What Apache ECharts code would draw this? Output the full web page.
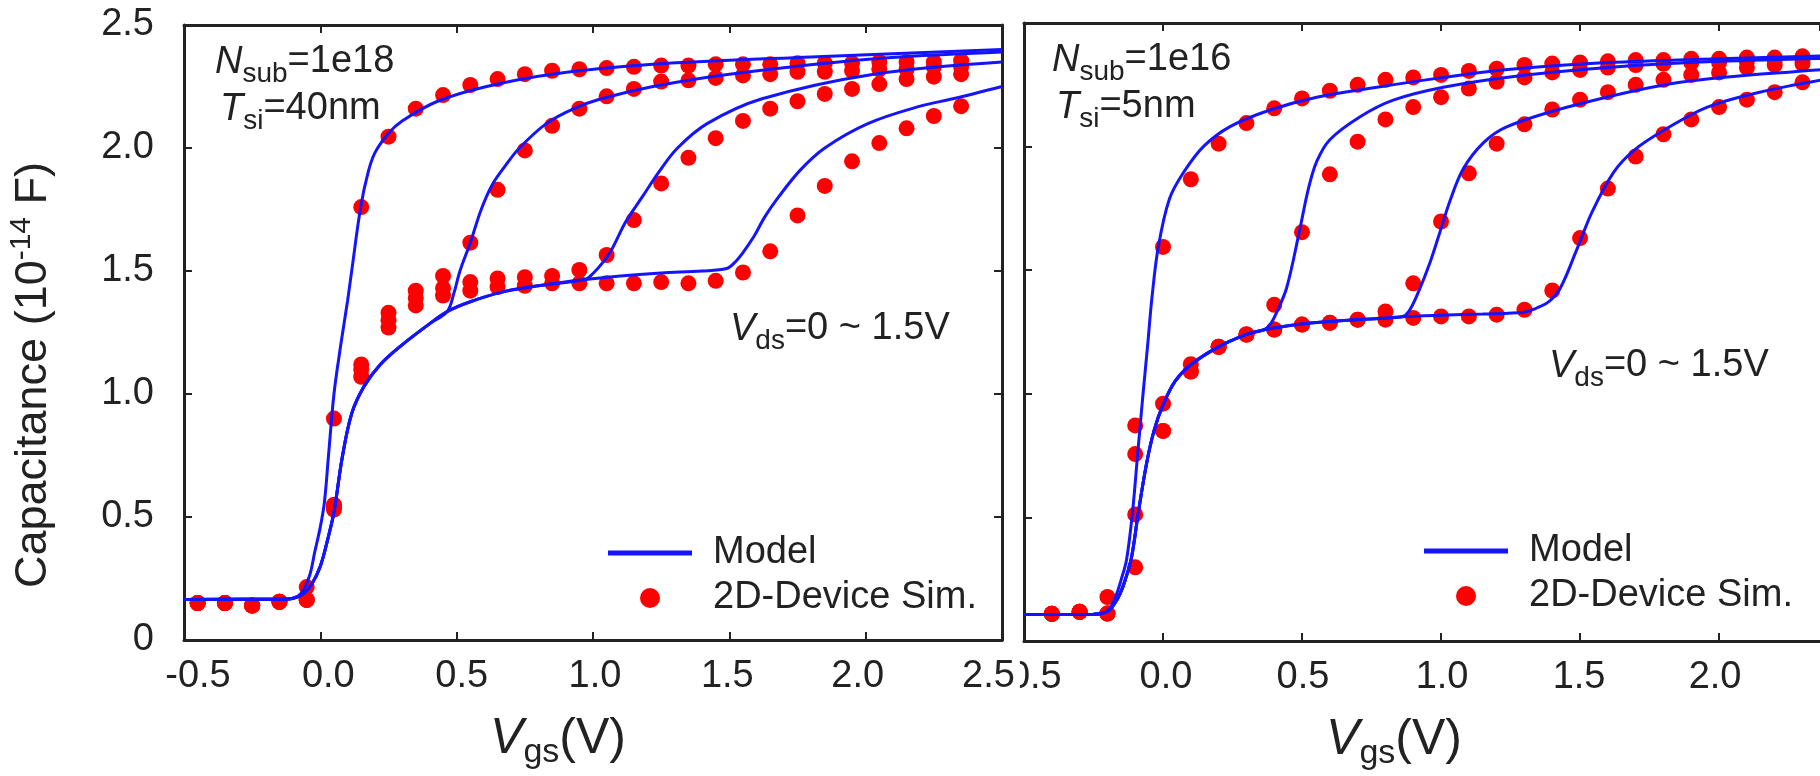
<!DOCTYPE html>
<html>
<head>
<meta charset="utf-8">
<title>C-V curves</title>
<script src="https://cdn.jsdelivr.net/npm/echarts@6/dist/echarts.min.js"></script>
<style>
  html, body { margin: 0; padding: 0; background: #fff; }
  #main { width: 1820px; height: 776px; }
</style>
</head>
<body>
<div id="main"></div>
<script>
// tick labels
const X_TICK_LABELS = ['-0.5', '0.0', '0.5', '1.0', '1.5', '2.0', '2.5']
const Y_TICK_LABELS = ['0', '0.5', '1.0', '1.5', '2.0', '2.5']

// left panel: Nsub=1e18, Tsi=40nm -- 2D device sim points (Vds = 0, 0.5, 1.0, 1.5 V)
const simVgsL = [-0.45, -0.35, -0.25, -0.15, -0.05, 0.05, 0.15, 0.25, 0.35, 0.45, 0.55, 0.65, 0.75, 0.85, 0.95,
  1.05, 1.15, 1.25, 1.35, 1.45, 1.55, 1.65, 1.75, 1.85, 1.95, 2.05, 2.15, 2.25, 2.35]
const simL0 = [0.150, 0.150, 0.140, 0.155, 0.215, 0.90, 1.76, 2.046, 2.16, 2.215, 2.256, 2.28, 2.30, 2.314, 2.32,
  2.325, 2.33, 2.335, 2.335, 2.34, 2.34, 2.34, 2.345, 2.345, 2.345, 2.35, 2.35, 2.35, 2.355]
const simL05 = [0.150, 0.150, 0.140, 0.155, 0.163, 0.55, 1.12, 1.33, 1.42, 1.48, 1.615, 1.83, 1.99, 2.09, 2.16,
  2.21, 2.24, 2.27, 2.275, 2.285, 2.295, 2.30, 2.31, 2.31, 2.315, 2.32, 2.32, 2.33, 2.33]
const simL10 = [0.150, 0.150, 0.140, 0.155, 0.163, 0.54, 1.10, 1.30, 1.39, 1.43, 1.455, 1.47, 1.475, 1.48, 1.504,
  1.565, 1.707, 1.856, 1.96, 2.04, 2.11, 2.16, 2.19, 2.22, 2.24, 2.26, 2.28, 2.29, 2.30]
const simL15 = [0.150, 0.150, 0.140, 0.155, 0.163, 0.53, 1.07, 1.27, 1.36, 1.40, 1.42, 1.435, 1.44, 1.45, 1.45,
  1.45, 1.45, 1.455, 1.45, 1.46, 1.494, 1.58, 1.726, 1.846, 1.946, 2.02, 2.08, 2.13, 2.17]

// left panel model curves [Vgs, C]
const modelL0 = [[-0.5, 0.165], [-0.15, 0.166], [-0.1, 0.17], [-0.07, 0.19], [-0.04, 0.26], [-0.02, 0.36], [0, 0.46],
  [0.015, 0.56], [0.03, 0.75], [0.05, 1.0], [0.075, 1.2], [0.1, 1.38], [0.115, 1.5], [0.148, 1.76], [0.175, 1.9],
  [0.2, 1.98], [0.25, 2.06], [0.3, 2.11], [0.43, 2.19], [0.61, 2.25], [0.85, 2.3], [1.22, 2.34], [1.8, 2.37], [2.5, 2.40]]
const baseL = [[-0.5, 0.165], [-0.15, 0.166], [-0.1, 0.17], [-0.06, 0.19], [-0.03, 0.23], [0, 0.3], [0.025, 0.4],
  [0.05, 0.52], [0.08, 0.74], [0.115, 0.92], [0.16, 1.03], [0.22, 1.12], [0.3, 1.2], [0.4, 1.285], [0.465, 1.335]]
const baseL2 = [[0.55, 1.375], [0.67, 1.415], [0.8, 1.44], [0.97, 1.465]]
const baseL3 = [[1.1, 1.48], [1.25, 1.492], [1.4, 1.5], [1.49, 1.51]]
const tailL05 = [[0.49, 1.41], [0.512, 1.5], [0.55, 1.615], [0.59, 1.75], [0.63, 1.85], [0.68, 1.93], [0.73, 2.0],
  [0.83, 2.1], [0.93, 2.16], [1.03, 2.2], [1.22, 2.25], [1.5, 2.3], [2.0, 2.36], [2.5, 2.39]]
const tailL10 = [[1.0, 1.49], [1.04, 1.54], [1.07, 1.59], [1.12, 1.7], [1.18, 1.8], [1.24, 1.9], [1.31, 2.0],
  [1.42, 2.1], [1.62, 2.2], [2.03, 2.3], [2.5, 2.35]]
const tailL15 = [[1.52, 1.535], [1.55, 1.575], [1.59, 1.64], [1.63, 1.72], [1.68, 1.8], [1.76, 1.91], [1.85, 2.0],
  [2.01, 2.1], [2.2, 2.17], [2.32, 2.2], [2.5, 2.25]]

// right panel: Nsub=1e16, Tsi=5nm
const simVgsR = [-0.4, -0.3, -0.2, -0.1, 0.0, 0.1, 0.2, 0.3, 0.4, 0.5, 0.6, 0.7, 0.8, 0.9, 1.0,
  1.1, 1.2, 1.3, 1.4, 1.5, 1.6, 1.7, 1.8, 1.9, 2.0, 2.1, 2.2, 2.3, 2.4]
const simR0 = [0.110, 0.118, 0.178, 0.872, 1.594, 1.868, 2.012, 2.095, 2.155, 2.195, 2.226, 2.25, 2.27, 2.28, 2.29,
  2.306, 2.315, 2.33, 2.336, 2.34, 2.345, 2.35, 2.35, 2.355, 2.355, 2.36, 2.36, 2.365, 2.365]
const simR05 = [0.110, 0.118, 0.111, 0.756, 0.96, 1.12, 1.19, 1.24, 1.36, 1.654, 1.888, 2.02, 2.11, 2.16, 2.20,
  2.235, 2.262, 2.28, 2.30, 2.31, 2.32, 2.33, 2.335, 2.34, 2.34, 2.345, 2.35, 2.35, 2.355]
const simR10 = [0.110, 0.118, 0.111, 0.512, 0.85, 1.09, 1.19, 1.24, 1.26, 1.28, 1.287, 1.30, 1.333, 1.447, 1.697,
  1.892, 2.012, 2.09, 2.15, 2.19, 2.22, 2.25, 2.27, 2.29, 2.30, 2.32, 2.33, 2.335, 2.34]
const simR15 = [0.110, 0.118, 0.111, 0.298, 0.85, 1.09, 1.19, 1.24, 1.26, 1.28, 1.287, 1.30, 1.30, 1.307, 1.313,
  1.313, 1.32, 1.34, 1.418, 1.63, 1.83, 1.96, 2.05, 2.11, 2.16, 2.19, 2.22, 2.26, 2.28]

const modelR0 = [[-0.5, 0.107], [-0.25, 0.108], [-0.21, 0.115], [-0.19, 0.135], [-0.169, 0.184], [-0.15, 0.25],
  [-0.131, 0.33], [-0.11, 0.518], [-0.091, 0.759], [-0.073, 0.986], [-0.055, 1.2], [-0.04, 1.387], [-0.017, 1.594],
  [0.023, 1.788], [0.073, 1.894], [0.145, 2.0], [0.241, 2.081], [0.385, 2.148], [0.553, 2.2], [0.769, 2.24],
  [1.01, 2.28], [1.22, 2.31], [1.6, 2.34], [2.0, 2.355], [2.5, 2.37]]
const baseR = [[-0.5, 0.107], [-0.25, 0.108], [-0.2, 0.12], [-0.175, 0.15], [-0.155, 0.19], [-0.135, 0.25],
  [-0.113, 0.34], [-0.089, 0.518], [-0.059, 0.719], [-0.032, 0.852], [0, 0.955], [0.043, 1.05], [0.097, 1.115],
  [0.193, 1.186], [0.3, 1.24], [0.36, 1.258]]
const baseR2 = [[0.45, 1.275], [0.53, 1.286], [0.65, 1.297], [0.79, 1.306], [0.86, 1.312]]
const baseR3 = [[1.0, 1.318], [1.15, 1.323], [1.3, 1.33]]
const tailR05 = [[0.385, 1.28], [0.409, 1.33], [0.445, 1.43], [0.49, 1.654], [0.523, 1.83], [0.553, 1.94],
  [0.6, 2.028], [0.709, 2.121], [0.828, 2.188], [1.008, 2.24], [1.248, 2.282], [1.6, 2.32], [2.0, 2.345], [2.5, 2.36]]
const tailR10 = [[0.885, 1.335], [0.918, 1.41], [0.96, 1.53], [0.996, 1.654], [1.032, 1.78], [1.08, 1.91],
  [1.152, 2.015], [1.236, 2.08], [1.49, 2.17], [1.86, 2.26], [2.35, 2.31], [2.5, 2.32]]
const tailR15 = [[1.34, 1.345], [1.39, 1.375], [1.43, 1.43], [1.487, 1.58], [1.543, 1.735], [1.62, 1.895],
  [1.694, 1.985], [1.807, 2.07], [1.958, 2.16], [2.146, 2.22], [2.37, 2.27], [2.5, 2.29]]

const FONT = '"Liberation Sans", Arial, Helvetica, sans-serif'
const INK = '#222'
const BLUE = '#1414ff'
const RED = '#ff0000'

// per-tick horizontal nudges of the x labels (px), as in the original figure
const LABEL_SHIFT_L = [14, 8, 5, 2, -2, -8, -13]
const LABEL_SHIFT_R = [5, 3, 1, 1, -1, -4, 0]

const tickFont = { fontSize: 38, fontFamily: FONT, color: INK }

function xRich (shifts) {
  let r = {}
  shifts.forEach((s, i) => {
    r['k' + i] = Object.assign({}, tickFont, { padding: s >= 0 ? [0, 0, 0, 2 * s] : [0, -2 * s, 0, 0] })
  })
  // the left panel's last label sits over the right panel's first one
  r.c = Object.assign({}, tickFont, { backgroundColor: '#fff', padding: [0, 5, 0, 0] })
  r.g = Object.assign({}, tickFont, { width: 22 })
  return r
}

function xFormatter (cover) {
  return function (v) {
    let i = Math.round((v + 0.5) / 0.5)
    if (cover && i === 6) return '{c|' + X_TICK_LABELS[i] + '}{g| }'
    return '{k' + i + '|' + X_TICK_LABELS[i] + '}'
  }
}

const xTitleRich = {
  i: { fontSize: 50, fontStyle: 'italic', fontFamily: FONT, color: INK, lineHeight: 54 },
  n: { fontSize: 50, fontFamily: FONT, color: INK, lineHeight: 54 },
  s: { fontSize: 34, fontFamily: FONT, color: INK, lineHeight: 36, padding: [28, 0, 0, 0] }
}
const yTitleRich = {
  n: { fontSize: 45, fontFamily: FONT, color: INK, lineHeight: 48 },
  p: { fontSize: 30, fontFamily: FONT, color: INK, lineHeight: 32, padding: [0, 0, 24, 0] }
}

const axisLine = { show: true, onZero: false, lineStyle: { color: INK, width: 3 } }
const axisTick = { show: true, inside: true, length: 8, lineStyle: { color: INK, width: 2 } }

function xAxis (grid, pos, opts) {
  return Object.assign({
    gridIndex: grid, type: 'value', position: pos, min: -0.5, max: 2.5, interval: 0.5,
    axisLine, axisTick, splitLine: { show: false }, axisLabel: { show: false }
  }, opts)
}
function yAxis (grid, pos, opts) {
  return Object.assign({
    gridIndex: grid, type: 'value', position: pos, min: 0, max: 2.5, interval: 0.5,
    axisLine, axisTick, splitLine: { show: false }, axisLabel: { show: false }
  }, opts)
}

function modelSeries (data, xi, yi) {
  return {
    type: 'line', name: 'Model', xAxisIndex: xi, yAxisIndex: yi, data,
    symbol: 'none', smooth: 0.35, z: 3, silent: true,
    lineStyle: { color: BLUE, width: 3 }, itemStyle: { color: BLUE }
  }
}
function simSeries (xs, ys, xi, yi) {
  return {
    type: 'scatter', name: '2D-Device Sim.', xAxisIndex: xi, yAxisIndex: yi,
    data: xs.map((x, i) => [x, ys[i]]),
    symbol: 'circle', symbolSize: 16, z: 2, silent: true, itemStyle: { color: RED, opacity: 1 }
  }
}

function legend (left, top) {
  return {
    left, top, orient: 'vertical', itemWidth: 84, itemHeight: 20, itemGap: 7,
    selectedMode: false,
    data: [{ name: 'Model', icon: 'path://M0,0L84,0L84,5L0,5Z' }, { name: '2D-Device Sim.', icon: 'circle' }],
    textStyle: { fontSize: 38, fontFamily: FONT, color: INK, padding: [0, 0, 0, 16] }
  }
}

const annotRich = {
  i: { fontSize: 38, fontStyle: 'italic', fontFamily: FONT, fill: INK, lineHeight: 40 },
  n: { fontSize: 38, fontFamily: FONT, fill: INK, lineHeight: 40 },
  s: { fontSize: 28, fontFamily: FONT, fill: INK, lineHeight: 28, padding: [24, 0, 0, 0] }
}
function annot (left, top, main, sub, rest) {
  return {
    type: 'text', left, top, silent: true,
    style: { text: '{i|' + main + '}{s|' + sub + '}{n|' + rest + '}', rich: annotRich, fill: INK }
  }
}

const option = {
  backgroundColor: '#fff',
  animation: false,
  grid: [
    { left: 184, top: 25, width: 818, height: 615 },
    // the right panel runs past the picture's edge: only up to Vgs ~ 2.36 is visible
    { left: 1024, top: 23, right: 0, height: 624 }
  ],
  xAxis: [
    xAxis(0, 'bottom', {
      z: 4,
      axisLabel: { show: true, margin: 18, formatter: xFormatter(true), rich: xRich(LABEL_SHIFT_L) },
      name: '{i|V}{s|gs}{n|(V)}', nameLocation: 'middle', nameGap: 72,
      nameTextStyle: { rich: xTitleRich, padding: [0, 70, 0, 0] }
    }),
    xAxis(0, 'top'),
    xAxis(1, 'bottom', {
      z: 2, max: 2.363,
      axisLabel: { show: true, margin: 18, showMaxLabel: false, formatter: xFormatter(false), rich: xRich(LABEL_SHIFT_R) },
      name: '{i|V}{s|gs}{n|(V)}', nameLocation: 'middle', nameGap: 72,
      nameTextStyle: { rich: xTitleRich, padding: [0, 56, 0, 0] }
    }),
    xAxis(1, 'top', { max: 2.363 })
  ],
  yAxis: [
    yAxis(0, 'left', {
      axisLabel: {
        show: true, margin: 30, fontSize: 38, fontFamily: FONT, color: INK,
        formatter: v => Y_TICK_LABELS[Math.round(v / 0.5)]
      },
      name: '{n|Capacitance (10}{p|-14}{n| F)}', nameLocation: 'middle', nameRotate: 90, nameGap: 126,
      nameTextStyle: { rich: yTitleRich, padding: [0, 85, 0, 0] }
    }),
    yAxis(0, 'right'),
    yAxis(1, 'left'),
    yAxis(1, 'right', { show: false })
  ],
  legend: [legend(603, 529), legend(1419, 527)],
  graphic: { elements: [
    annot(215, 36, 'N', 'sub', '=1e18'),
    annot(220, 83, 'T', 'si', '=40nm'),
    annot(730, 303, 'V', 'ds', '=0 ~ 1.5V'),
    annot(1052, 34, 'N', 'sub', '=1e16'),
    annot(1056, 81, 'T', 'si', '=5nm'),
    annot(1549, 340, 'V', 'ds', '=0 ~ 1.5V')
  ] },
  series: [
    simSeries(simVgsL, simL0, 0, 0),
    simSeries(simVgsL, simL05, 0, 0),
    simSeries(simVgsL, simL10, 0, 0),
    simSeries(simVgsL, simL15, 0, 0),
    modelSeries(modelL0, 0, 0),
    modelSeries(baseL.concat(tailL05), 0, 0),
    modelSeries(baseL.concat(baseL2, tailL10), 0, 0),
    modelSeries(baseL.concat(baseL2, baseL3, tailL15), 0, 0),
    simSeries(simVgsR, simR0, 2, 2),
    simSeries(simVgsR, simR05, 2, 2),
    simSeries(simVgsR, simR10, 2, 2),
    simSeries(simVgsR, simR15, 2, 2),
    modelSeries(modelR0, 2, 2),
    modelSeries(baseR.concat(tailR05), 2, 2),
    modelSeries(baseR.concat(baseR2, tailR10), 2, 2),
    modelSeries(baseR.concat(baseR2, baseR3, tailR15), 2, 2)
  ]
}

let chart = echarts.init(document.getElementById('main'))
chart.setOption(option)
window.onresize = chart.resize
</script>
</body>
</html>
